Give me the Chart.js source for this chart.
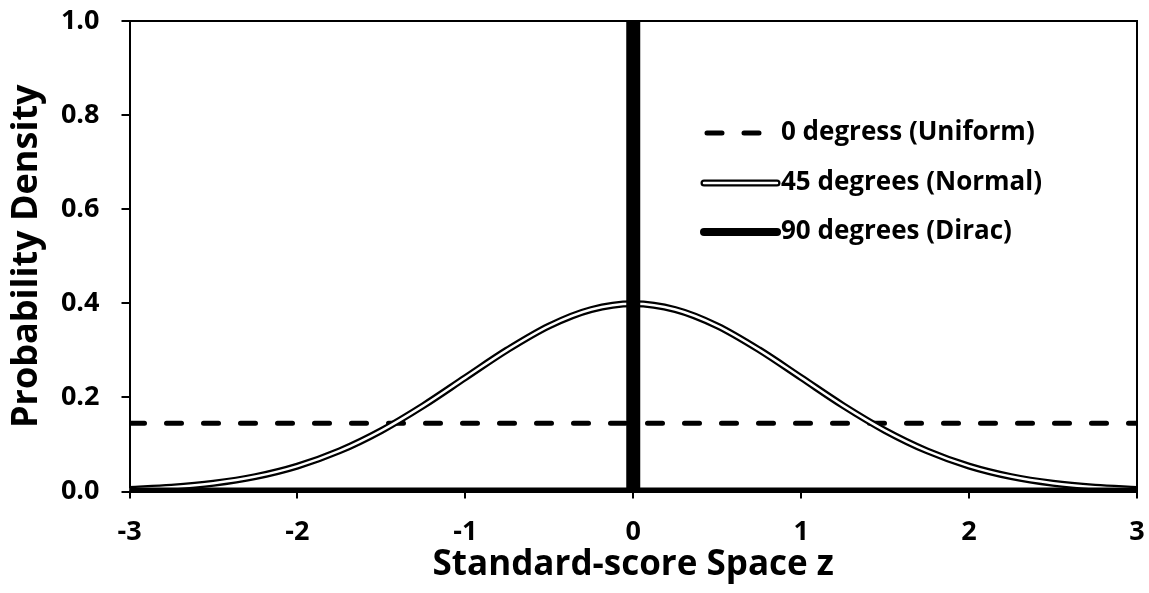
<!DOCTYPE html>
<html><head><meta charset="utf-8">
<script src="https://cdn.jsdelivr.net/npm/chart.js@4.4.0/dist/chart.umd.min.js"></script>
<style>html,body{margin:0;padding:0;background:#fff;overflow:hidden}#wrap{width:1149px;height:593px}</style>
</head><body><div id="wrap"><canvas id="c" width="1149" height="593"></canvas></div>
<script>
// ---- data ----
const zNormal = [-3, -2.75, -2.5, -2.25, -2, -1.75, -1.5, -1.25, -1, -0.75, -0.5, -0.25, 0,
                 0.25, 0.5, 0.75, 1, 1.25, 1.5, 1.75, 2, 2.25, 2.5, 2.75, 3];
const normalDensity = [0.0044, 0.0091, 0.0175, 0.0317, 0.054, 0.0863, 0.1295, 0.1826, 0.242, 0.3011, 0.3521, 0.3867, 0.3989,
                       0.3867, 0.3521, 0.3011, 0.242, 0.1826, 0.1295, 0.0863, 0.054, 0.0317, 0.0175, 0.0091, 0.0044];
const zUniform = [-3, 3];
const uniformDensity = [0.145, 0.145];
const zDirac = [-3, 0, 0, 0, 3];
const diracDensity = [0, 0, 1, 0, 0];
const xTicks = [-3, -2, -1, 0, 1, 2, 3];
const yTicks = [0, 0.2, 0.4, 0.6, 0.8, 1.0];
const seriesNames = ['0 degress (Uniform)', '45 degrees (Normal)', '90 degrees (Dirac)'];
const xTitle = 'Standard-score Space z';
const yTitle = 'Probability Density';

const FONT = '"Open Sans"';
const pts = (xs, ys) => xs.map((x, i) => ({x: x, y: ys[i]}));

const frame = {
  id: 'frame',
  afterDraw(chart) {
    const {ctx, chartArea: a} = chart;
    ctx.save();
    ctx.strokeStyle = '#000'; ctx.lineWidth = 2;
    ctx.beginPath();
    ctx.moveTo(a.left, a.top); ctx.lineTo(a.right, a.top); ctx.lineTo(a.right, a.bottom);
    ctx.stroke();
    ctx.restore();
  }
};

const legend = {
  id: 'customLegend',
  afterDraw(chart) {
    const ctx = chart.ctx;
    const x0 = 704, x1 = 777, tx = 781;
    const rows = [133, 183, 232];
    ctx.save();
    ctx.strokeStyle = '#000'; ctx.lineCap = 'round'; ctx.lineWidth = 5; ctx.setLineDash([15, 22]);
    ctx.beginPath(); ctx.moveTo(x0 + 3, rows[0]); ctx.lineTo(x1 - 10, rows[0]); ctx.stroke();
    ctx.setLineDash([]);
    ctx.lineCap = 'round'; ctx.lineWidth = 7;
    ctx.beginPath(); ctx.moveTo(x0, rows[1]); ctx.lineTo(x1, rows[1]); ctx.stroke();
    ctx.strokeStyle = '#fff'; ctx.lineWidth = 2.5;
    ctx.beginPath(); ctx.moveTo(x0, rows[1]); ctx.lineTo(x1, rows[1]); ctx.stroke();
    ctx.strokeStyle = '#000'; ctx.lineWidth = 8;
    ctx.beginPath(); ctx.moveTo(x0, rows[2]); ctx.lineTo(x1, rows[2]); ctx.stroke();
    ctx.fillStyle = '#000';
    ctx.font = 'bold 26px ' + FONT;
    ctx.textAlign = 'left'; ctx.textBaseline = 'middle';
    seriesNames.forEach((s, i) => ctx.fillText(s, tx, rows[i]));
    ctx.restore();
  }
};

const zeroPad = s => { s.paddingLeft = 0; s.paddingRight = 0; s.paddingTop = 0; s.paddingBottom = 0; };

new Chart(document.getElementById('c'), {
  type: 'scatter',
  data: {
    datasets: [
      { label: seriesNames[2], data: pts(zDirac, diracDensity), showLine: true, pointRadius: 0,
        borderColor: '#000', borderWidth: 8, borderCapStyle: 'butt', order: 0,
        segment: { borderWidth: c => (c.p0.parsed.x === c.p1.parsed.x ? 14 : 8) } },
      { label: seriesNames[1] + ' inner', data: pts(zNormal, normalDensity), showLine: true, pointRadius: 0,
        borderColor: '#fff', borderWidth: 2.5, cubicInterpolationMode: 'monotone', order: 1 },
      { label: seriesNames[1], data: pts(zNormal, normalDensity), showLine: true, pointRadius: 0,
        borderColor: '#000', borderWidth: 7, cubicInterpolationMode: 'monotone', order: 2 },
      { label: seriesNames[0], data: pts(zUniform, uniformDensity), showLine: true, pointRadius: 0,
        borderColor: '#000', borderWidth: 5, borderDash: [15, 22], borderCapStyle: 'round', order: 3 }
    ]
  },
  options: {
    responsive: false, animation: false, devicePixelRatio: 1,
    layout: { padding: { top: 21, right: 12, left: 0, bottom: 0 } },
    plugins: { legend: { display: false }, tooltip: { enabled: false } },
    scales: {
      x: {
        type: 'linear', min: -3, max: 3,
        afterBuildTicks: s => { s.ticks = xTicks.map(v => ({value: v})); },
        afterFit: s => { s.height = 101.5; zeroPad(s); },
        grid: { drawOnChartArea: false, drawTicks: true, tickLength: 7, color: '#000', lineWidth: 2 },
        border: { display: true, color: '#000', width: 2 },
        ticks: { color: '#000', padding: 18, maxRotation: 0, font: { family: FONT, size: 27, weight: 'bold' },
                 callback: v => String(v) },
        title: { display: true, text: xTitle, color: '#000', padding: { top: 0, bottom: 7 },
                 font: { family: FONT, size: 35, weight: 'bold' } }
      },
      y: {
        type: 'linear', min: 0, max: 1,
        afterBuildTicks: s => { s.ticks = yTicks.map(v => ({value: v})); },
        afterFit: s => { s.width = 129.5; zeroPad(s); },
        grid: { drawOnChartArea: false, drawTicks: true, tickLength: 8, color: '#000', lineWidth: 2 },
        border: { display: true, color: '#000', width: 2 },
        ticks: { color: '#000', padding: 22, font: { family: FONT, size: 27, weight: 'bold' },
                 callback: v => Number(v).toFixed(1) },
        title: { display: true, text: yTitle, color: '#000', padding: { top: 5, bottom: 0 },
                 font: { family: FONT, size: 36, weight: 'bold' } }
      }
    }
  },
  plugins: [frame, legend]
});
</script></body></html>
